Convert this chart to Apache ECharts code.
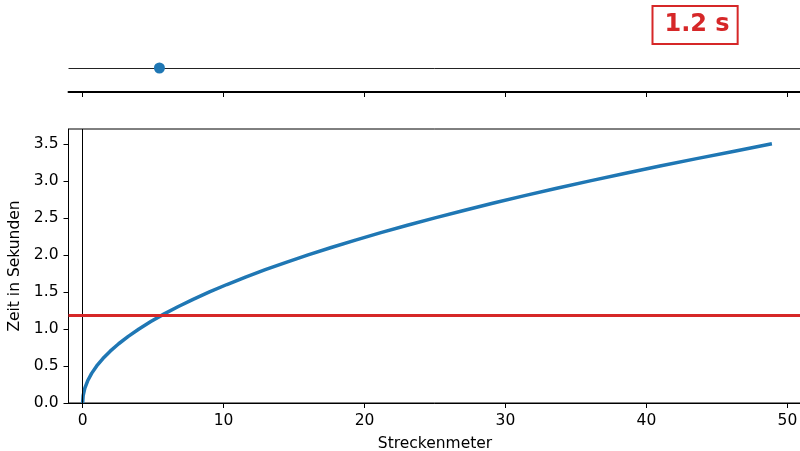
<!DOCTYPE html>
<html>
<head>
<meta charset="utf-8">
<script src="https://cdn.jsdelivr.net/npm/echarts@6/dist/echarts.min.js"></script>
<style>
  html, body { margin: 0; padding: 0; background: #fff; }
  #chart { width: 800px; height: 451px; }
</style>
</head>
<body>
<div id="chart"></div>
<script>
// Fall time (s) against distance fallen (m)
const distanceM = [0, 0.04, 0.16, 0.36, 0.64, 1.00, 1.44, 1.96, 2.56, 3.24, 4.00, 4.84,
  5.76, 6.76, 7.84, 9.00, 10.24, 11.56, 12.96, 14.44, 16.00, 17.64, 19.36, 21.16,
  23.04, 25.00, 27.04, 29.16, 31.36, 33.64, 36.00, 38.44, 40.96, 43.56, 46.24, 48.9];
const timeS = [0, 0.1, 0.2, 0.3, 0.4, 0.5, 0.6, 0.7, 0.8, 0.9, 1.0, 1.1,
  1.2, 1.3, 1.4, 1.5, 1.6, 1.7, 1.8, 1.9, 2.0, 2.1, 2.2, 2.3,
  2.4, 2.5, 2.6, 2.7, 2.8, 2.9, 3.0, 3.1, 3.2, 3.3, 3.4, 3.5];

// Current state of the falling object
const currentTime = 1.175;
const currentDistance = 5.45;

// Axis ticks
const xTicks = [0, 10, 20, 30, 40, 50];
const yTicks = [0, 0.5, 1.0, 1.5, 2.0, 2.5, 3.0, 3.5];

const FONT = 'DejaVu Sans';
const FS = 15.5;
const BLUE = '#1f77b4';
const RED = '#d62728';

const curve = distanceM.map((s, i) => [s, timeS[i]]);

const chart = echarts.init(document.getElementById('chart'), null, { renderer: 'canvas' });

chart.setOption({
  animation: false,
  backgroundColor: '#ffffff',
  grid: [
    { left: 68.5, top: 44, width: 733, height: 48, show: false,
      containLabel: false, outerBoundsMode: 'none' },
    { left: 68.5, top: 129, width: 733, height: 274, show: true,
      containLabel: false, outerBoundsMode: 'none',
      borderColor: '#000', borderWidth: 1, backgroundColor: 'transparent' }
  ],
  xAxis: [
    {
      gridIndex: 0, type: 'value', min: -1, max: 51,
      axisLine: { show: true, onZero: false, lineStyle: { color: '#000', width: 2 } },
      axisTick: { show: true, inside: false, length: 5, customValues: xTicks,
        lineStyle: { color: '#000', width: 1 } },
      axisLabel: { show: false },
      splitLine: { show: false }
    },
    {
      gridIndex: 1, type: 'value', min: -1, max: 51,
      name: 'Streckenmeter', nameLocation: 'middle', nameGap: 33,
      nameTextStyle: { fontFamily: FONT, fontSize: FS, color: '#000' },
      axisLine: { show: true, onZero: false, lineStyle: { color: '#000', width: 1 } },
      axisTick: { show: true, inside: false, length: 5, customValues: xTicks,
        lineStyle: { color: '#000', width: 1 } },
      axisLabel: { show: true, margin: 10, customValues: xTicks,
        fontFamily: FONT, fontSize: FS, color: '#000',
        formatter: v => String(v) },
      splitLine: { show: false }
    }
  ],
  yAxis: [
    {
      gridIndex: 0, type: 'value', min: -1, max: 1, show: false
    },
    {
      gridIndex: 1, type: 'value', min: 0, max: 3.7,
      name: 'Zeit in Sekunden', nameLocation: 'middle', nameGap: 41,
      nameTextStyle: { fontFamily: FONT, fontSize: FS, color: '#000' },
      axisLine: { show: true, onZero: false, lineStyle: { color: '#000', width: 1 } },
      axisTick: { show: true, inside: false, length: 5, customValues: yTicks,
        lineStyle: { color: '#000', width: 1 } },
      axisLabel: { show: true, margin: 10, customValues: yTicks,
        fontFamily: FONT, fontSize: FS, color: '#000',
        formatter: v => v.toFixed(1) },
      splitLine: { show: false }
    }
  ],
  series: [
    {
      // position marker on the track
      type: 'scatter', xAxisIndex: 0, yAxisIndex: 0,
      data: [[currentDistance, 0]],
      symbol: 'circle', symbolSize: 11,
      itemStyle: { color: BLUE, opacity: 1 },
      z: 5,
      markLine: {
        silent: true, symbol: 'none', label: { show: false },
        lineStyle: { color: '#222', width: 1, type: 'solid' },
        data: [{ yAxis: 0 }]
      }
    },
    {
      type: 'line', xAxisIndex: 1, yAxisIndex: 1,
      data: curve, showSymbol: false, smooth: false,
      lineStyle: { color: BLUE, width: 3.5 },
      z: 3,
      markLine: {
        silent: true, symbol: 'none', label: { show: false },
        lineStyle: { color: '#000', width: 1, type: 'solid' },
        data: [{ xAxis: 0 }]
      }
    },
    {
      type: 'line', xAxisIndex: 1, yAxisIndex: 1,
      data: [], z: 4,
      markLine: {
        silent: true, symbol: 'none', label: { show: false },
        lineStyle: { color: RED, width: 3, type: 'solid' },
        data: [{ yAxis: currentTime }]
      }
    }
  ],
  graphic: [
    {
      type: 'text',
      left: 651.5, top: 5,
      style: {
        text: currentTime.toFixed(1) + ' s',
        fontFamily: FONT, fontWeight: 'bold', fontSize: 24,
        fill: RED,
        backgroundColor: '#fff',
        borderColor: RED, borderWidth: 2,
        padding: [6, 7, 6, 11]
      }
    }
  ]
});
</script>
</body>
</html>
